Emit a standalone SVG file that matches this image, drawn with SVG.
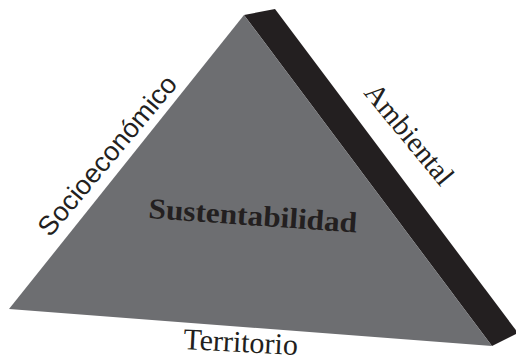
<svg xmlns="http://www.w3.org/2000/svg" width="516" height="360" viewBox="0 0 516 360">
<style>
.lbl{font-family:"Liberation Serif","Times New Roman",serif;fill:#231f20}
</style>
<rect width="516" height="360" fill="#ffffff"/>
<g id="side">
<polygon points="244,15 275,9 518,333 492,346" fill="#231f20"/>
</g>
<g id="face">
<polygon points="244,15 492,346 9,309" fill="#6d6e71"/>
</g>
<g id="labels">
<text class="lbl" style="font-family:'Liberation Sans',Arial,sans-serif" font-size="27" textLength="200" lengthAdjust="spacingAndGlyphs" transform="translate(50,238) rotate(-50)">Socioeconómico</text>
<text class="lbl" font-size="29" transform="translate(363,93) rotate(50.5)">Ambiental</text>
<text class="lbl" font-size="30" transform="translate(183,349) rotate(3)">Territorio</text>
<text class="lbl" font-size="29" font-weight="bold" textLength="209" lengthAdjust="spacingAndGlyphs" transform="translate(148,218) rotate(4)">Sustentabilidad</text>
</g>
</svg>
